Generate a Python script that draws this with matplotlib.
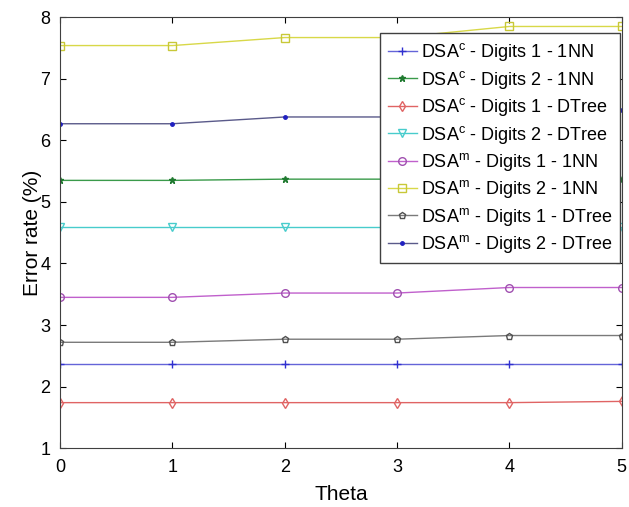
import matplotlib
matplotlib.use("Agg")
import matplotlib.pyplot as plt

plt.rcParams['font.family'] = ['Liberation Sans', 'DejaVu Sans']
plt.rcParams['mathtext.default'] = 'regular'

theta = [0, 1, 2, 3, 4, 5]
labels = [
    "DSA$^{c}$ - Digits 1 - 1NN",
    "DSA$^{c}$ - Digits 2 - 1NN",
    "DSA$^{c}$ - Digits 1 - DTree",
    "DSA$^{c}$ - Digits 2 - DTree",
    "DSA$^{m}$ - Digits 1 - 1NN",
    "DSA$^{m}$ - Digits 2 - 1NN",
    "DSA$^{m}$ - Digits 1 - DTree",
    "DSA$^{m}$ - Digits 2 - DTree",
]
dsac_d1_1nn = [2.37, 2.37, 2.37, 2.37, 2.37, 2.37]
dsac_d2_1nn = [5.35, 5.35, 5.37, 5.37, 5.37, 5.37]
dsac_d1_dtree = [1.74, 1.74, 1.74, 1.74, 1.74, 1.76]
dsac_d2_dtree = [4.60, 4.60, 4.60, 4.60, 4.60, 4.60]
dsam_d1_1nn = [3.45, 3.45, 3.52, 3.52, 3.61, 3.61]
dsam_d2_1nn = [7.54, 7.54, 7.67, 7.67, 7.85, 7.85]
dsam_d1_dtree = [2.72, 2.72, 2.77, 2.77, 2.83, 2.83]
dsam_d2_dtree = [6.27, 6.27, 6.38, 6.38, 6.49, 6.49]

series = [dsac_d1_1nn, dsac_d2_1nn, dsac_d1_dtree, dsac_d2_dtree,
          dsam_d1_1nn, dsam_d2_1nn, dsam_d1_dtree, dsam_d2_dtree]
styles = [
    dict(color='#6464d8', marker='+', ms=6, mfc='none', mec='#3030d0'),
    dict(color='#3a9a4a', marker='*', ms=4.5, mfc='#207a30', mec='#207a30'),
    dict(color='#e06464', marker='d', ms=5, mfc='none', mec='#e06464'),
    dict(color='#48cccc', marker='v', ms=5.5, mfc='none', mec='#48cccc'),
    dict(color='#c060cc', marker='o', ms=5.5, mfc='none', mec='#a050b0'),
    dict(color='#d8d848', marker='s', ms=6, mfc='none', mec='#c8c838'),
    dict(color='#7a7a7a', marker='p', ms=5, mfc='none', mec='#505050'),
    dict(color='#5a5a8a', marker='.', ms=5, mfc='#2020c0', mec='#2020c0'),
]

fig = plt.figure(figsize=(6.29, 5.07), dpi=100)
ax = fig.add_axes([0.0954, 0.116, 0.893, 0.850])
for s, lab, st in zip(series, labels, styles):
    ax.plot(theta, s, lw=1.0, label=lab, **st)

ax.set_xlim(0, 5)
ax.set_ylim(1, 8)
ax.set_xticks(theta)
ax.set_yticks(range(1, 9))
ax.tick_params(direction='in', top=True, right=True, labelsize=13, length=4)
ax.tick_params(axis='x', pad=8)
ax.tick_params(axis='y', pad=7)
for sp in ax.spines.values():
    sp.set_color('#404040')
ax.set_xlabel('Theta', fontsize=15, labelpad=6)
ax.set_ylabel('Error rate (%)', fontsize=15, labelpad=-1)

leg = ax.legend(loc='upper right', bbox_to_anchor=(0.997, 0.963), borderaxespad=0,
                fontsize=13, handlelength=1.6, handletextpad=0.2,
                labelspacing=0.3, fancybox=False, framealpha=1,
                edgecolor='#404040', borderpad=0.45)
leg.get_frame().set_linewidth(1.0)

fig.savefig('out.png', dpi=100)
